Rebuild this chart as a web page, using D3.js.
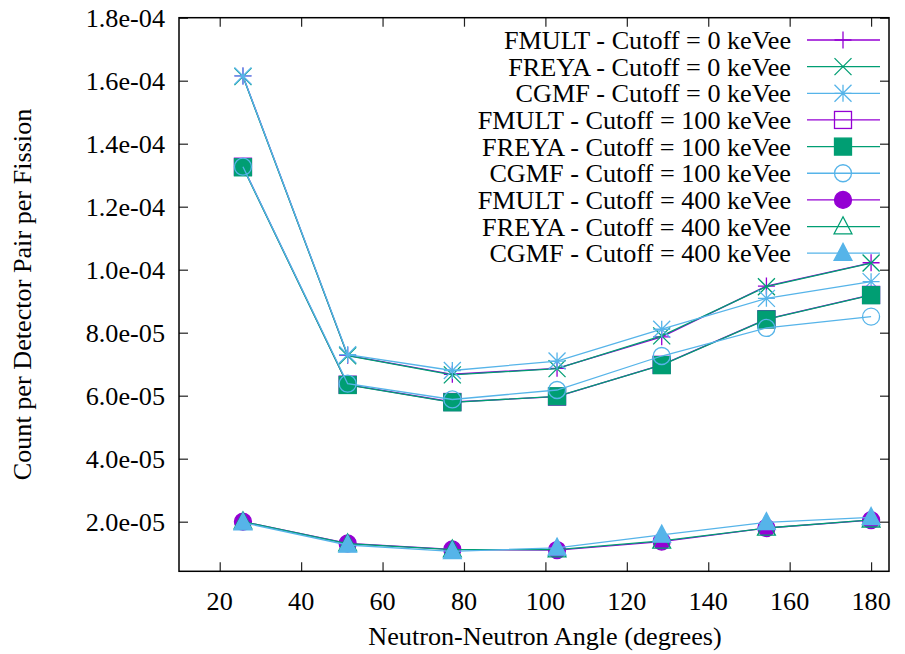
<!DOCTYPE html>
<html>
<head>
<meta charset="utf-8">
<script src="https://cdn.jsdelivr.net/npm/d3@7"></script>
<style>
  html, body { margin: 0; padding: 0; background: #fff; }
  svg { display: block; }
</style>
</head>
<body>
<svg id="chart" width="905" height="654"></svg>
<script>
// ---- data ----
const angles = [25.71, 51.43, 77.14, 102.86, 128.57, 154.29, 180];

const fmult0   = [1.615e-4, 7.28e-5, 6.68e-5, 6.87e-5, 7.87e-5, 9.48e-5, 1.022e-4];
const freya0   = [1.613e-4, 7.27e-5, 6.66e-5, 6.86e-5, 7.90e-5, 9.46e-5, 1.021e-4];
const cgmf0    = [1.615e-4, 7.30e-5, 6.80e-5, 7.10e-5, 8.11e-5, 9.09e-5, 9.62e-5];
const fmult100 = [1.327e-4, 6.35e-5, 5.80e-5, 5.97e-5, 6.98e-5, 8.43e-5, 9.20e-5];
const freya100 = [1.325e-4, 6.34e-5, 5.79e-5, 5.98e-5, 6.97e-5, 8.42e-5, 9.19e-5];
const cgmf100  = [1.327e-4, 6.38e-5, 5.88e-5, 6.18e-5, 7.26e-5, 8.15e-5, 8.51e-5];
const fmult400 = [2.00e-5, 1.31e-5, 1.12e-5, 1.10e-5, 1.37e-5, 1.80e-5, 2.05e-5];
const freya400 = [2.00e-5, 1.30e-5, 1.11e-5, 1.11e-5, 1.39e-5, 1.80e-5, 2.06e-5];
const cgmf400  = [1.97e-5, 1.26e-5, 1.06e-5, 1.17e-5, 1.58e-5, 1.98e-5, 2.14e-5];

const seriesNames = [
  "FMULT - Cutoff = 0 keVee", "FREYA - Cutoff = 0 keVee", "CGMF - Cutoff = 0 keVee",
  "FMULT - Cutoff = 100 keVee", "FREYA - Cutoff = 100 keVee", "CGMF - Cutoff = 100 keVee",
  "FMULT - Cutoff = 400 keVee", "FREYA - Cutoff = 400 keVee", "CGMF - Cutoff = 400 keVee"
];
const seriesValues = [fmult0, freya0, cgmf0, fmult100, freya100, cgmf100, fmult400, freya400, cgmf400];
const seriesSymbols = ["plus", "cross", "star", "square", "squareFill", "circle", "circleFill", "triangle", "triangleFill"];
const seriesColors = ["#9400d3", "#009e73", "#56b4e9", "#9400d3", "#009e73", "#56b4e9", "#9400d3", "#009e73", "#56b4e9"];

const xTicks = [20, 40, 60, 80, 100, 120, 140, 160, 180];
const xTickLabels = ["20", "40", "60", "80", "100", "120", "140", "160", "180"];
const yTicks = [2e-5, 4e-5, 6e-5, 8e-5, 1e-4, 1.2e-4, 1.4e-4, 1.6e-4, 1.8e-4];
const yTickLabels = ["2.0e-05", "4.0e-05", "6.0e-05", "8.0e-05", "1.0e-04", "1.2e-04", "1.4e-04", "1.6e-04", "1.8e-04"];
const xTitle = "Neutron-Neutron Angle (degrees)";
const yTitle = "Count per Detector Pair per Fission";

// ---- layout ----
const FONT = "Liberation Serif";
const L = 179, R = 889, T = 17.7, B = 571.3;
const FS = 26.2;
const svg = d3.select("#chart");
svg.append("rect").attr("width", 905).attr("height", 654).attr("fill", "#fff");

const x = d3.scaleLinear().domain([10, 184.4]).range([L, R]);
const y = d3.scaleLinear().domain([4.25e-6, 1.8e-4]).range([B, T]);

const tickLen = 9;
const mk = (axis, tx, ty) => {
  const g = svg.append("g").attr("transform", `translate(${tx},${ty})`).call(axis);
  g.select(".domain").remove();
  g.selectAll(".tick line").attr("stroke", "#222").attr("stroke-width", 1.2);
  g.selectAll(".tick text").remove();
  return g;
};
mk(d3.axisBottom(x).tickValues(xTicks).tickSizeInner(-tickLen).tickSizeOuter(0), 0, B);
mk(d3.axisTop(x).tickValues(xTicks).tickSizeInner(-tickLen).tickSizeOuter(0), 0, T);
mk(d3.axisLeft(y).tickValues(yTicks).tickSizeInner(-tickLen).tickSizeOuter(0), L, 0);
mk(d3.axisRight(y).tickValues(yTicks).tickSizeInner(-tickLen).tickSizeOuter(0), R, 0);

// tick labels
const labG = svg.append("g");
xTicks.forEach((v, i) => {
  labG.append("text").attr("x", x(v)).attr("y", 610).attr("text-anchor", "middle")
    .attr("font-family", FONT).attr("font-size", FS).text(xTickLabels[i]);
});
yTicks.forEach((v, i) => {
  labG.append("text").attr("x", 165).attr("y", y(v) + 9).attr("text-anchor", "end")
    .attr("font-family", FONT).attr("font-size", FS).text(yTickLabels[i]);
});

svg.append("rect").attr("x", L).attr("y", T).attr("width", R - L).attr("height", B - T)
  .attr("fill", "none").attr("stroke", "#000").attr("stroke-width", 1.5);

svg.append("text").attr("x", 545).attr("y", 645).attr("text-anchor", "middle")
  .attr("font-family", FONT).attr("font-size", FS).text(xTitle);
svg.append("text").attr("transform", `translate(31,${(T + B) / 2}) rotate(-90)`)
  .attr("text-anchor", "middle").attr("font-family", FONT).attr("font-size", FS).text(yTitle);

// symbols
const S = 8.5;
function drawSymbol(g, type, cx, cy, color) {
  const sw = 1.3;
  const p = d3.path();
  switch (type) {
    case "plus":
      p.moveTo(cx - S, cy); p.lineTo(cx + S, cy); p.moveTo(cx, cy - S); p.lineTo(cx, cy + S);
      g.append("path").attr("d", p.toString()).attr("stroke", color).attr("stroke-width", sw).attr("fill", "none");
      break;
    case "cross":
      p.moveTo(cx - S, cy - S); p.lineTo(cx + S, cy + S); p.moveTo(cx - S, cy + S); p.lineTo(cx + S, cy - S);
      g.append("path").attr("d", p.toString()).attr("stroke", color).attr("stroke-width", sw).attr("fill", "none");
      break;
    case "star":
      p.moveTo(cx - S, cy); p.lineTo(cx + S, cy); p.moveTo(cx, cy - S); p.lineTo(cx, cy + S);
      p.moveTo(cx - S, cy - S); p.lineTo(cx + S, cy + S); p.moveTo(cx - S, cy + S); p.lineTo(cx + S, cy - S);
      g.append("path").attr("d", p.toString()).attr("stroke", color).attr("stroke-width", sw).attr("fill", "none");
      break;
    case "square":
    case "squareFill":
      g.append("rect").attr("x", cx - S).attr("y", cy - S).attr("width", 2 * S).attr("height", 2 * S)
        .attr("stroke", color).attr("stroke-width", sw)
        .attr("fill", type === "squareFill" ? color : "none");
      break;
    case "circle":
    case "circleFill":
      g.append("circle").attr("cx", cx).attr("cy", cy).attr("r", S)
        .attr("stroke", color).attr("stroke-width", sw)
        .attr("fill", type === "circleFill" ? color : "none");
      break;
    case "triangle":
    case "triangleFill":
      p.moveTo(cx, cy - S * 1.15); p.lineTo(cx + S * 1.05, cy + S * 0.85); p.lineTo(cx - S * 1.05, cy + S * 0.85); p.closePath();
      g.append("path").attr("d", p.toString()).attr("stroke", color).attr("stroke-width", sw)
        .attr("fill", type === "triangleFill" ? color : "none");
      break;
  }
}

const line = d3.line().x(d => x(d[0])).y(d => y(d[1]));
const plotG = svg.append("g");
seriesValues.forEach((vals, i) => {
  const pts = angles.map((a, j) => [a, vals[j]]);
  const g = plotG.append("g");
  g.append("path").attr("d", line(pts)).attr("fill", "none")
    .attr("stroke", seriesColors[i]).attr("stroke-width", 1.3);
  pts.forEach(pt => drawSymbol(g, seriesSymbols[i], x(pt[0]), y(pt[1]), seriesColors[i]));
});

const legG = svg.append("g");
const legTextX = 791, legLineX0 = 807, legLineX1 = 880, legSymX = 843, legY0 = 40, legDY = 26.65;
seriesNames.forEach((name, i) => {
  const yy = legY0 + i * legDY;
  legG.append("text").attr("x", legTextX).attr("y", yy + 9)
    .attr("text-anchor", "end").attr("font-family", FONT).attr("font-size", FS).text(name);
  legG.append("line").attr("x1", legLineX0).attr("x2", legLineX1).attr("y1", yy).attr("y2", yy)
    .attr("stroke", seriesColors[i]).attr("stroke-width", 1.3);
  drawSymbol(legG, seriesSymbols[i], legSymX, yy, seriesColors[i]);
});
</script>
</body>
</html>
